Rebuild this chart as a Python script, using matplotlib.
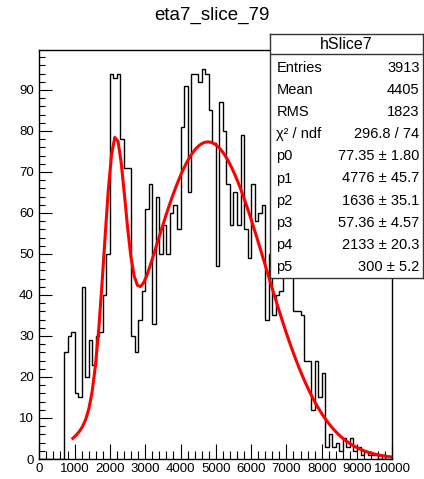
import numpy as np
import matplotlib
matplotlib.use("Agg")
import matplotlib.pyplot as plt
from matplotlib.ticker import MultipleLocator

plt.rcParams['font.family'] = ['Liberation Sans', 'DejaVu Sans']

# ---------------- data ----------------
title = "eta7_slice_79"
hist_name = "hSlice7"
x_min, x_max, n_bins = 0, 10000, 100
counts = ([0] * 7 +
          [26, 30, 31, 16, 15, 42, 20, 29, 23, 30, 31, 40, 50,
           94, 93, 94, 78, 71, 71, 30, 26, 34, 41, 61, 67,
           33, 64, 50, 57, 50, 60, 62, 56, 81, 91, 65, 94, 94, 92, 95, 94,
           85, 77, 47, 87, 80, 67, 57, 65, 57, 79, 56, 49, 67, 58, 60, 62,
           34, 50, 35, 40, 41, 48, 52, 47, 36, 36, 35, 24, 24, 12, 24, 15, 21,
           3, 6, 3, 4, 2, 5, 3, 5, 2, 3, 1, 2, 1, 1, 1, 0, 1, 0, 0])
fit_params = [77.35, 4776, 1636, 57.36, 2133, 300]
fit_range = (950, 10000)
stat_labels = ["Entries", "Mean", "RMS", "\u03c7\u00b2 / ndf", "p0", "p1", "p2", "p3", "p4", "p5"]
stat_values = ["3913", "4405", "1823", "296.8 / 74",
               "77.35 \u00b1 1.80", "4776 \u00b1 45.7", "1636 \u00b1 35.1",
               "57.36 \u00b1 4.57", "2133 \u00b1 20.3", "300 \u00b1 5.2"]
y_max = 99.75

# ---------------- figure ----------------
W, H = 424, 479
fig = plt.figure(figsize=(W / 100, H / 100), dpi=100)

def fx(px):
    return px / W

def fy(py):
    return 1 - py / H

ax_l, ax_r, ax_t, ax_b = 39.3, 392.3, 50, 459
ax = fig.add_axes([fx(ax_l), fy(ax_b), fx(ax_r - ax_l), (ax_b - ax_t) / H])

edges = np.linspace(x_min, x_max, n_bins + 1)
ax.stairs(counts, edges, color="black", lw=1.0, baseline=0)

def model(x, p):
    return (p[0] * np.exp(-0.5 * ((x - p[1]) / p[2]) ** 2) +
            p[3] * np.exp(-0.5 * ((x - p[4]) / p[5]) ** 2))

xf = np.linspace(fit_range[0], fit_range[1], 100)
ax.plot(xf, model(xf, fit_params), color="#ff0000", lw=2.2)

ax.set_xlim(x_min, x_max)
ax.set_ylim(0, y_max)
ax.xaxis.set_major_locator(MultipleLocator(1000))
ax.xaxis.set_minor_locator(MultipleLocator(200))
ax.yaxis.set_major_locator(MultipleLocator(10))
ax.yaxis.set_minor_locator(MultipleLocator(2))
ax.tick_params(which="both", direction="in", top=False, right=False,
               labelsize=9.5, width=0.8)
ax.tick_params(axis="x", which="major", length=11, pad=3)
ax.tick_params(axis="x", which="minor", length=5.5)
ax.tick_params(axis="y", which="major", length=9, pad=4)
ax.tick_params(axis="y", which="minor", length=4.5)
for s in ax.spines.values():
    s.set_linewidth(1.0)

fig.text(fx(212), fy(15), title, ha="center", va="center", fontsize=13.5)

# ---------------- stats box ----------------
bx_l, bx_r, bx_t, bx_b = 270, 423, 34, 278
sax = fig.add_axes([fx(bx_l), fy(bx_b), fx(bx_r - bx_l), (bx_b - bx_t) / H])
sax.set_xlim(bx_l, bx_r)
sax.set_ylim(bx_b, bx_t)
sax.set_xticks([])
sax.set_yticks([])
sax.set_facecolor("white")
for s in sax.spines.values():
    s.set_linewidth(1.0)
    s.set_color("#333333")
sax.axhline(54.3, color="#333333", lw=1.0)
sax.text((bx_l + bx_r) / 2, 44.5, hist_name, ha="center", va="center", fontsize=11.5)
for i, (lab, val) in enumerate(zip(stat_labels, stat_values)):
    yy = 68.3 + 22.04 * i
    sax.text(276.5, yy, lab, ha="left", va="center", fontsize=10.5)
    sax.text(419.5, yy, val, ha="right", va="center", fontsize=10.5)

fig.savefig("out.png", dpi=100)
